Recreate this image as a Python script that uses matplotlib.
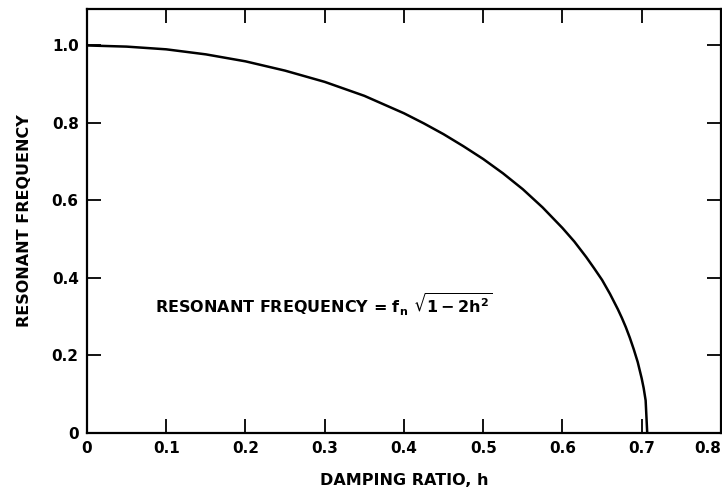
import matplotlib
matplotlib.use('Agg')
import matplotlib.pyplot as plt

# 阻尼比 h 与共振频率
damping = [0, 0.05, 0.1, 0.15, 0.2, 0.25, 0.3, 0.35, 0.4, 0.425, 0.45, 0.475,
           0.5, 0.525, 0.55, 0.575, 0.6, 0.615, 0.63, 0.64, 0.65, 0.66, 0.67,
           0.675, 0.68, 0.685, 0.69, 0.695, 0.70, 0.7025, 0.705, 0.707]
res_freq = [1.0, 0.997, 0.990, 0.977, 0.959, 0.935, 0.906, 0.870, 0.825,
            0.799, 0.771, 0.740, 0.707, 0.670, 0.629, 0.582, 0.529, 0.494,
            0.454, 0.425, 0.395, 0.359, 0.319, 0.297, 0.273, 0.246, 0.216,
            0.183, 0.141, 0.116, 0.084, 0.0]

x_ticks = [0, 0.1, 0.2, 0.3, 0.4, 0.5, 0.6, 0.7, 0.8]
x_labels = ['0', '0.1', '0.2', '0.3', '0.4', '0.5', '0.6', '0.7', '0.8']
y_ticks = [0, 0.2, 0.4, 0.6, 0.8, 1.0]
y_labels = ['0', '0.2', '0.4', '0.6', '0.8', '1.0']

plt.rcParams['font.family'] = ['DejaVu Sans']
plt.rcParams['font.weight'] = 'bold'
plt.rcParams['mathtext.default'] = 'bf'

fig = plt.figure(figsize=(7.22, 4.93), dpi=100)
ax = fig.add_axes([0.1205, 0.1217, 0.878, 0.860])

ax.plot(damping, res_freq, c='black', linewidth=1.8)

ax.set_xlim(0, 0.8)
ax.set_ylim(0, 1.094)
ax.set_xticks(x_ticks)
ax.set_xticklabels(x_labels, fontsize=11, fontweight='bold')
ax.set_yticks(y_ticks)
ax.set_yticklabels(y_labels, fontsize=11, fontweight='bold')
ax.tick_params(direction='in', length=10, width=1.3, top=True, right=True,
               pad=6)
# 最后一个刻度标签靠右，避免被裁掉
ax.get_xticklabels()[-1].set_horizontalalignment('right')
for sp in ax.spines.values():
    sp.set_linewidth(1.6)

ax.set_xlabel('DAMPING RATIO, h', fontsize=11.5, fontweight='bold', labelpad=12)
ax.set_ylabel('RESONANT FREQUENCY', fontsize=11.5, fontweight='bold', labelpad=14)

ax.text(0.086, 0.33, r'RESONANT FREQUENCY = f$_{n}$ $\sqrt{1-2h^{2}}$',
        fontsize=11.5, fontweight='bold', va='center', ha='left')

fig.savefig('out.png', dpi=100)
